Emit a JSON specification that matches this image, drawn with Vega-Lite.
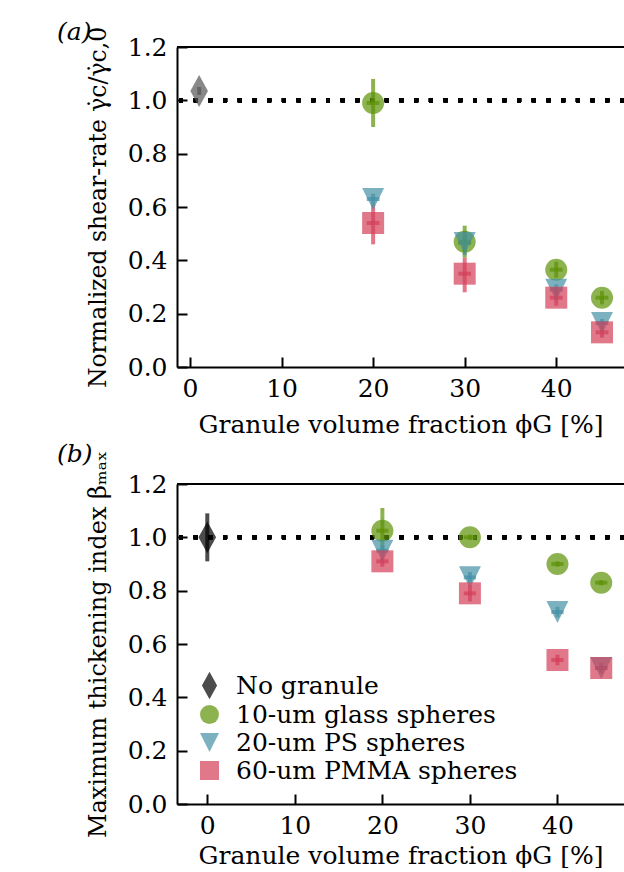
{
  "$schema": "https://vega.github.io/schema/vega-lite/v6.json",
  "autosize": {"type": "pad"},
  "padding": {"left": 57, "top": 20, "right": 0, "bottom": 0},
  "config": {
    "font": "DejaVu Serif",
    "view": {"stroke": null},
    "axis": {
      "domainColor": "black", "domainWidth": 2, "tickColor": "black", "tickWidth": 2,
      "tickSize": -10, "labelFont": "DejaVu Serif", "labelFontSize": 25,
      "labelColor": "black", "titleFont": "DejaVu Serif", "titleFontSize": 25,
      "titleFontWeight": "normal", "titleColor": "black", "grid": false,
      "labelFlush": false, "labelOverlap": false
    },
    "axisX": {"labelPadding": 19, "titlePadding": 11},
    "axisY": {"labelPadding": 20, "titlePadding": 17, "titleFontSize": 24},
    "title": {"font": "DejaVu Serif", "fontSize": 25, "fontWeight": "normal", "fontStyle": "italic", "color": "black", "anchor": "start", "frame": "group"}
  },
  "datasets": {
    "a": [
      {"s": "No granule", "phi": 1, "v": 1.035, "lo": 1.02, "hi": 1.05, "xl": 1, "xh": 1},
      {"s": "10-um glass spheres", "phi": 20, "v": 0.99, "lo": 0.9, "hi": 1.08, "xl": 19.3, "xh": 20.7},
      {"s": "10-um glass spheres", "phi": 30, "v": 0.47, "lo": 0.41, "hi": 0.53, "xl": 29.3, "xh": 30.7},
      {"s": "10-um glass spheres", "phi": 40, "v": 0.365, "lo": 0.335, "hi": 0.395, "xl": 39.3, "xh": 40.7},
      {"s": "10-um glass spheres", "phi": 45, "v": 0.26, "lo": 0.235, "hi": 0.285, "xl": 44.3, "xh": 45.7},
      {"s": "20-um PS spheres", "phi": 20, "v": 0.63, "lo": 0.61, "hi": 0.65, "xl": 19.3, "xh": 20.7},
      {"s": "20-um PS spheres", "phi": 30, "v": 0.465, "lo": 0.42, "hi": 0.51, "xl": 29.3, "xh": 30.7},
      {"s": "20-um PS spheres", "phi": 40, "v": 0.29, "lo": 0.27, "hi": 0.31, "xl": 39.3, "xh": 40.7},
      {"s": "20-um PS spheres", "phi": 45, "v": 0.165, "lo": 0.15, "hi": 0.18, "xl": 44.3, "xh": 45.7},
      {"s": "60-um PMMA spheres", "phi": 20, "v": 0.54, "lo": 0.46, "hi": 0.61, "xl": 19.3, "xh": 20.7},
      {"s": "60-um PMMA spheres", "phi": 30, "v": 0.35, "lo": 0.28, "hi": 0.41, "xl": 29.3, "xh": 30.7},
      {"s": "60-um PMMA spheres", "phi": 40, "v": 0.26, "lo": 0.23, "hi": 0.29, "xl": 39.3, "xh": 40.7},
      {"s": "60-um PMMA spheres", "phi": 45, "v": 0.13, "lo": 0.11, "hi": 0.15, "xl": 44.3, "xh": 45.7}
    ],
    "b": [
      {"s": "No granule", "phi": 0, "v": 1.0, "lo": 0.91, "hi": 1.09, "xl": 0, "xh": 0},
      {"s": "10-um glass spheres", "phi": 20, "v": 1.025, "lo": 0.94, "hi": 1.11, "xl": 19.3, "xh": 20.7},
      {"s": "10-um glass spheres", "phi": 30, "v": 1.0, "lo": 0.99, "hi": 1.01, "xl": 29.3, "xh": 30.7},
      {"s": "10-um glass spheres", "phi": 40, "v": 0.9, "lo": 0.89, "hi": 0.91, "xl": 39.3, "xh": 40.7},
      {"s": "10-um glass spheres", "phi": 45, "v": 0.83, "lo": 0.82, "hi": 0.84, "xl": 44.3, "xh": 45.7},
      {"s": "20-um PS spheres", "phi": 20, "v": 0.95, "lo": 0.93, "hi": 0.97, "xl": 19.3, "xh": 20.7},
      {"s": "20-um PS spheres", "phi": 30, "v": 0.85, "lo": 0.83, "hi": 0.87, "xl": 29.3, "xh": 30.7},
      {"s": "20-um PS spheres", "phi": 40, "v": 0.72, "lo": 0.7, "hi": 0.74, "xl": 39.3, "xh": 40.7},
      {"s": "20-um PS spheres", "phi": 45, "v": 0.51, "lo": 0.5, "hi": 0.52, "xl": 44.3, "xh": 45.7},
      {"s": "60-um PMMA spheres", "phi": 20, "v": 0.91, "lo": 0.89, "hi": 0.93, "xl": 19.3, "xh": 20.7},
      {"s": "60-um PMMA spheres", "phi": 30, "v": 0.79, "lo": 0.76, "hi": 0.82, "xl": 29.3, "xh": 30.7},
      {"s": "60-um PMMA spheres", "phi": 40, "v": 0.54, "lo": 0.52, "hi": 0.56, "xl": 39.3, "xh": 40.7},
      {"s": "60-um PMMA spheres", "phi": 45, "v": 0.51, "lo": 0.49, "hi": 0.53, "xl": 44.3, "xh": 45.7}
    ]
  },
  "spacing": 5,
  "resolve": {
    "scale": {"x": "independent", "y": "independent", "color": "independent", "shape": "independent", "stroke": "independent"}
  },
  "vconcat": [
    {
      "width": 447, "height": 320,
      "data": {"name": "a"},
      "title": {"text": "(a)", "dx": -120, "dy": 19, "offset": 0},
      "layer": [
        {
          "mark": {"type": "rule", "strokeDash": [4, 10.7], "strokeWidth": 4, "color": "black"},
          "encoding": {"y": {"datum": 1, "type": "quantitative"}}
        },
        {
          "mark": {"type": "rule", "strokeWidth": 2, "color": "black"},
          "encoding": {"y": {"datum": 1.2, "type": "quantitative"}}
        },
        {
          "mark": {"type": "rule", "strokeWidth": 4, "opacity": 0.7},
          "encoding": {
            "x": {"field": "phi", "type": "quantitative"},
            "y": {"field": "lo", "type": "quantitative"},
            "y2": {"field": "hi"},
            "stroke": {"field": "s", "type": "nominal", "scale": {"range": ["#5c9105", "#4591a5", "#d33e58", "#555555"]}, "legend": null}
          }
        },
        {
          "mark": {"type": "rule", "strokeWidth": 4, "opacity": 0.7},
          "encoding": {
            "x": {"field": "xl", "type": "quantitative"},
            "x2": {"field": "xh"},
            "y": {"field": "v", "type": "quantitative"},
            "stroke": {"field": "s", "type": "nominal", "legend": null}
          }
        },
        {
          "mark": {"type": "point", "filled": true, "opacity": 0.7, "size": 484, "strokeWidth": 0},
          "encoding": {
            "x": {"field": "phi", "type": "quantitative", "scale": {"domain": [-1.42, 47.4], "nice": false, "zero": false}, "axis": {"values": [0, 10, 20, 30, 40], "title": "Granule volume fraction ϕG [%]"}},
            "y": {"field": "v", "type": "quantitative", "scale": {"domain": [0, 1.2], "nice": false, "zero": false}, "axis": {"values": [0, 0.2, 0.4, 0.6, 0.8, 1.0, 1.2], "format": ".1f", "title": "Normalized shear-rate γ̇c/γ̇c,0", "titleFontSize": 23.5}},
            "color": {"field": "s", "type": "nominal", "scale": {"domain": ["No granule", "10-um glass spheres", "20-um PS spheres", "60-um PMMA spheres"], "range": ["#555555", "#5c9105", "#4591a5", "#d33e58"]}, "legend": null},
            "shape": {"field": "s", "type": "nominal", "scale": {"domain": ["No granule", "10-um glass spheres", "20-um PS spheres", "60-um PMMA spheres"], "range": ["M0,-1.45L0.8,0L0,1.45L-0.8,0Z", "circle", "M0,1L-1,-1L1,-1Z", "square"]}, "legend": null}
          }
        }
      ]
    },
    {
      "width": 447, "height": 320,
      "data": {"name": "b"},
      "title": {"text": "(b)", "dx": -120, "dy": 17, "offset": 0},
      "layer": [
        {
          "mark": {"type": "rule", "strokeDash": [4, 10.7], "strokeWidth": 4, "color": "black"},
          "encoding": {"y": {"datum": 1, "type": "quantitative"}}
        },
        {
          "mark": {"type": "rule", "strokeWidth": 2, "color": "black"},
          "encoding": {"y": {"datum": 1.2, "type": "quantitative"}}
        },
        {
          "mark": {"type": "rule", "strokeWidth": 4, "opacity": 0.7},
          "encoding": {
            "x": {"field": "phi", "type": "quantitative"},
            "y": {"field": "lo", "type": "quantitative"},
            "y2": {"field": "hi"},
            "stroke": {"field": "s", "type": "nominal", "scale": {"range": ["#5c9105", "#4591a5", "#d33e58", "#000000"]}, "legend": null}
          }
        },
        {
          "mark": {"type": "rule", "strokeWidth": 4, "opacity": 0.7},
          "encoding": {
            "x": {"field": "xl", "type": "quantitative"},
            "x2": {"field": "xh"},
            "y": {"field": "v", "type": "quantitative"},
            "stroke": {"field": "s", "type": "nominal", "legend": null}
          }
        },
        {
          "mark": {"type": "point", "filled": true, "opacity": 0.7, "size": 484, "strokeWidth": 0},
          "encoding": {
            "x": {"field": "phi", "type": "quantitative", "scale": {"domain": [-3.46, 47.6], "nice": false, "zero": false}, "axis": {"values": [0, 10, 20, 30, 40], "title": "Granule volume fraction ϕG [%]", "titlePadding": 5}},
            "y": {"field": "v", "type": "quantitative", "scale": {"domain": [0, 1.2], "nice": false, "zero": false}, "axis": {"values": [0, 0.2, 0.4, 0.6, 0.8, 1.0, 1.2], "format": ".1f", "title": "Maximum thickening index βₘₐₓ"}},
            "color": {"field": "s", "type": "nominal", "scale": {"domain": ["No granule", "10-um glass spheres", "20-um PS spheres", "60-um PMMA spheres"], "range": ["#000000", "#5c9105", "#4591a5", "#d33e58"]},
              "legend": {"orient": "bottom-left", "offset": 20, "title": null, "labelFont": "DejaVu Serif", "labelFontSize": 25, "labelColor": "black", "labelLimit": 0, "symbolSize": 361, "symbolStrokeWidth": 0, "rowPadding": 2, "labelOffset": 14, "padding": 0}},
            "shape": {"field": "s", "type": "nominal", "scale": {"domain": ["No granule", "10-um glass spheres", "20-um PS spheres", "60-um PMMA spheres"], "range": ["M0,-1.45L0.8,0L0,1.45L-0.8,0Z", "circle", "M0,1L-1,-1L1,-1Z", "square"]}}
          }
        }
      ]
    }
  ]
}
